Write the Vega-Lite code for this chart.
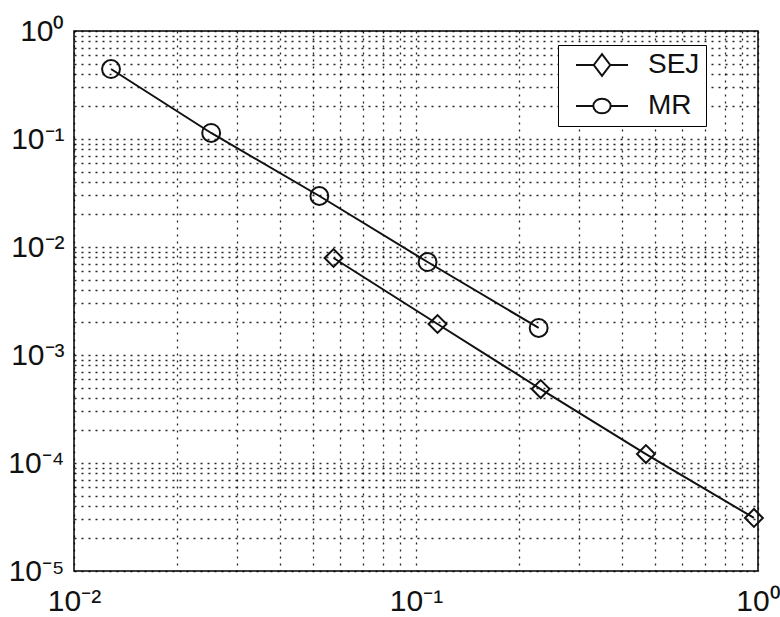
{
  "$schema": "https://vega.github.io/schema/vega-lite/v6.json",
  "width": 684,
  "height": 540,
  "autosize": {"type": "none"},
  "padding": {"left": 74, "top": 31, "right": 22, "bottom": 46},
  "background": "white",
  "config": {
    "view": {"stroke": "#000", "strokeWidth": 1.5},
    "font": "Liberation Sans",
    "axis": {
      "domain": false,
      "ticks": false,
      "grid": true,
      "gridColor": "#000",
      "gridOpacity": 0.85,
      "gridDash": [2, 5],
      "gridWidth": 1.3,
      "labelFont": "Liberation Sans",
      "labelFontSize": 30,
      "labelColor": "#111",
      "title": null
    }
  },
  "data": {
    "values": [
      {"method": "MR", "h": 0.01283, "err": 0.4446},
      {"method": "MR", "h": 0.02518, "err": 0.1137},
      {"method": "MR", "h": 0.05217, "err": 0.02966},
      {"method": "MR", "h": 0.1081, "err": 0.00726},
      {"method": "MR", "h": 0.2284, "err": 0.00178},
      {"method": "SEJ", "h": 0.0574, "err": 0.00791},
      {"method": "SEJ", "h": 0.1156, "err": 0.001936},
      {"method": "SEJ", "h": 0.2315, "err": 0.000484},
      {"method": "SEJ", "h": 0.4703, "err": 0.000121},
      {"method": "SEJ", "h": 0.973, "err": 0.000031}
    ]
  },
  "encoding": {
    "x": {
      "field": "h",
      "type": "quantitative",
      "scale": {"type": "log", "domain": [0.01, 1], "nice": false},
      "axis": {
        "values": [0.01, 0.02, 0.03, 0.04, 0.05, 0.06, 0.07, 0.08, 0.09, 0.1, 0.2, 0.3, 0.4, 0.5, 0.6, 0.7, 0.8, 0.9, 1],
        "labelExpr": "datum.value == 0.01 ? '10⁻²' : datum.value == 0.1 ? '10⁻¹' : datum.value == 1 ? '10⁰' : ''",
        "labelPadding": 15,
        "labelFlush": false,
        "labelOverlap": false
      }
    },
    "y": {
      "field": "err",
      "type": "quantitative",
      "scale": {"type": "log", "domain": [0.00001, 1], "nice": false},
      "axis": {
        "values": [0.00001, 0.00002, 0.00003, 0.00004, 0.00005, 0.00006, 0.00007, 0.00008, 0.00009, 0.0001, 0.0002, 0.0003, 0.0004, 0.0005, 0.0006, 0.0007, 0.0008, 0.0009, 0.001, 0.002, 0.003, 0.004, 0.005, 0.006, 0.007, 0.008, 0.009, 0.01, 0.02, 0.03, 0.04, 0.05, 0.06, 0.07, 0.08, 0.09, 0.1, 0.2, 0.3, 0.4, 0.5, 0.6, 0.7, 0.8, 0.9, 1],
        "labelExpr": "datum.value == 0.00001 ? '10⁻⁵' : datum.value == 0.0001 ? '10⁻⁴' : datum.value == 0.001 ? '10⁻³' : datum.value == 0.01 ? '10⁻²' : datum.value == 0.1 ? '10⁻¹' : datum.value == 1 ? '10⁰' : ''",
        "labelPadding": 10,
        "labelFlush": false,
        "labelOverlap": false
      }
    }
  },
  "layer": [
    {
      "mark": {"type": "line", "color": "#111", "strokeWidth": 2},
      "encoding": {"detail": {"field": "method"}}
    },
    {
      "mark": {"type": "point", "filled": false, "stroke": "#111", "strokeWidth": 2, "size": 320, "opacity": 1},
      "encoding": {
        "shape": {
          "field": "method",
          "type": "nominal",
          "scale": {"domain": ["SEJ", "MR"], "range": ["diamond", "circle"]},
          "legend": null
        }
      }
    },
    {
      "transform": [{"filter": "datum.h > 10"}],
      "mark": {"type": "point", "filled": false, "stroke": "#111", "strokeWidth": 2, "size": 300, "opacity": 1},
      "encoding": {
        "shape": {
          "field": "method",
          "type": "nominal",
          "scale": {
            "domain": ["SEJ", "MR"],
            "range": [
              "M-3,0L-0.95,0M0.95,0L3,0M-0.95,0L0,-1.25L0.95,0L0,1.25Z",
              "M-3,0L-1,0M1,0L3,0M-1,0A1,0.85 0 1,0 1,0A1,0.85 0 1,0 -1,0Z"
            ]
          },
          "legend": {
            "title": null,
            "orient": "none",
            "legendX": 484,
            "legendY": 14,
            "fillColor": "white",
            "strokeColor": "#000",
            "padding": 6,
            "cornerRadius": 0,
            "symbolSize": 300,
            "symbolOffset": 24,
            "labelOffset": 32,
            "rowPadding": 12,
            "labelFontSize": 28,
            "labelFont": "Liberation Sans",
            "labelColor": "#111",
            "labelExpr": "datum.label + '\u2003\u2003\u2003'",
            "symbolStrokeColor": "#111",
            "symbolStrokeWidth": 2,
            "symbolOpacity": 1,
            "symbolFillColor": "transparent"
          }
        }
      }
    }
  ],
  "resolve": {"scale": {"shape": "independent"}}
}
